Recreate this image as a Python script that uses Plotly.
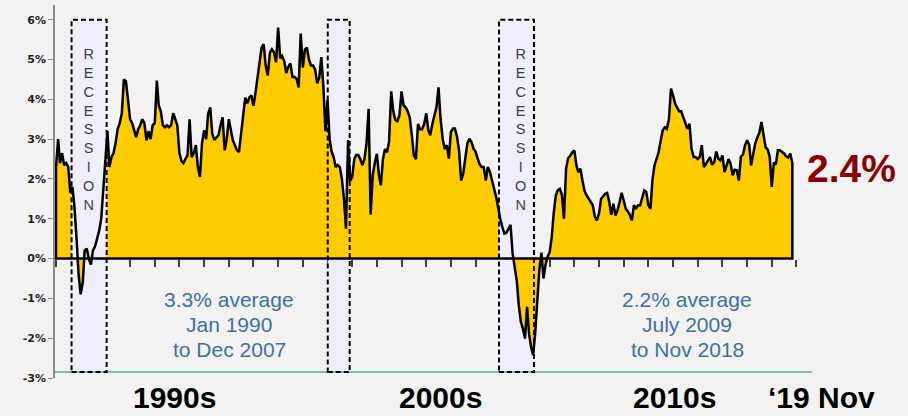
import plotly.graph_objects as go
import pandas as pd

# monthly y/y growth (%), Jan 1990 .. Nov 2019
growth_1990s = [
    2.3, 3.0, 2.4, 2.65, 2.35, 2.4, 2.3, 1.65, 1.8, 1.3, 0.5, -0.4,
    -0.9, -0.6, 0.2, 0.25, 0.0, -0.15, 0.2, 0.3, 0.5, 0.7, 1.0, 1.8,
    2.5, 3.2, 2.3, 2.55, 2.65, 2.9, 3.25, 3.4, 3.65, 4.5, 4.45, 3.95,
    3.5, 3.4, 3.2, 3.05, 3.25, 3.35, 3.5, 3.4, 2.97, 3.2, 3.0, 3.35,
    3.4, 4.47, 3.85, 3.7, 3.35, 3.3, 3.35, 3.3, 3.35, 3.65, 3.5, 3.35,
    2.65, 2.45, 2.4, 2.5, 2.6, 3.5, 2.55, 2.65, 2.85, 2.3, 2.05, 2.89,
    3.22, 3.0, 3.64, 3.8, 3.14, 2.98, 3.05, 3.1, 3.35, 3.55, 2.72, 3.0,
    3.5, 3.26, 2.97, 2.85, 2.72, 2.68, 3.14, 3.68, 4.04, 3.9, 4.05, 4.1,
    3.84, 4.18, 4.55, 5.05, 5.3, 5.39, 4.85, 4.6, 5.18, 5.26, 5.18, 4.93,
    5.8, 5.03, 5.09, 4.96, 4.66, 4.82, 4.9, 4.56, 4.56, 4.52, 4.3, 5.65,
]
growth_2000s = [
    4.8, 5.25, 5.3, 5.0, 4.85, 4.85, 4.75, 4.4, 4.55, 5.06, 4.3, 3.2,
    3.98, 3.0, 2.7, 2.55, 2.3, 2.35, 2.3, 2.0, 1.5, 0.75, 2.98, 1.95,
    2.05, 2.5, 2.6, 2.6, 2.5, 2.35, 2.5, 2.9, 3.76, 1.1, 2.1, 2.4,
    2.63, 2.1, 1.84, 2.5, 2.75, 2.67, 2.95, 4.2, 3.7, 3.48, 3.45, 3.6,
    4.2, 3.85, 3.8, 3.7, 3.55, 3.1, 2.59, 2.5, 3.38, 3.25, 3.25, 3.38,
    3.65, 3.22, 3.1, 3.38, 3.63, 3.8, 4.3, 3.5, 3.0, 2.75, 2.85, 2.51,
    3.18, 3.27, 3.27, 3.06, 2.72, 1.96, 2.13, 2.59, 2.89, 3.01, 2.93, 2.76,
    2.68, 2.51, 2.37, 2.3, 2.3, 1.96, 2.3, 2.18, 1.93, 1.76, 1.55, 1.26,
    1.0, 0.79, 0.63, 0.65, 0.75, 0.85, 0.13, -0.27, -0.55, -1.17, -1.59, -1.76,
    -2.01, -1.21, -1.88, -2.22, -2.43, -1.88, -1.21, -0.29, 0.15, -0.5, -0.15, 0.05,
]
growth_2010s = [
    0.16, 0.54, 1.12, 1.58, 1.72, 1.75, 1.6, 1.0, 2.26, 2.52, 2.58, 2.67,
    2.72, 2.34, 2.17, 2.26, 1.96, 1.7, 1.59, 1.5, 1.4, 1.34, 1.05, 0.96,
    1.13, 1.5, 1.56, 1.63, 1.65, 1.42, 1.1, 1.38, 1.08, 1.21, 1.42, 1.65,
    1.46, 1.25, 1.19, 1.1, 0.96, 1.34, 1.25, 1.34, 1.34, 1.55, 1.71, 1.67,
    1.34, 1.25, 1.96, 2.34, 2.48, 2.67, 2.95, 3.22, 3.3, 3.26, 3.5, 4.27,
    4.1, 3.89, 3.8, 3.7, 3.7, 3.55, 3.43, 3.26, 3.39, 2.76, 2.55, 2.55,
    2.5, 2.56, 2.85, 2.3, 2.38, 2.48, 2.55, 2.36, 2.42, 2.69, 2.51, 2.47,
    2.59, 2.17, 2.34, 2.5, 2.38, 2.09, 2.23, 2.22, 1.96, 2.56, 2.61, 2.85,
    2.97, 2.85, 2.34, 2.64, 2.89, 3.04, 3.16, 3.43, 3.14, 2.8, 2.74, 2.56,
    1.8, 2.42, 2.36, 2.72, 2.72, 2.68, 2.64, 2.57, 2.54, 2.64, 2.4,
]

# shaded recession boxes as drawn on the chart
recession_start = ['1990-08-19', '2001-01-04', '2007-12-13']
recession_end = ['1992-01-20', '2001-11-25', '2009-05-14']
recession_over_area = [True, False, True]
recession_label_x = ['1991-05-01', None, '2008-11-01']

decade_labels = ['1990s', '2000s', '2010s', '\u201819 Nov']
average_notes = [
    ['3.3% average', 'Jan 1990', 'to Dec 2007'],
    ['2.2% average', 'July 2009', 'to Nov 2018'],
]
latest_label = '2.4%'

growth = growth_1990s + growth_2000s + growth_2010s
months = pd.date_range('1990-01-01', periods=len(growth), freq='MS')

BG = '#F2F2F2'
GOLD = '#FFCC00'
LAVENDER = '#EEEEFD'
BOX_TOP = 6.0
BOX_BOTTOM = -2.85
Y_MIN, Y_MAX = -3.0, 6.37

fig = go.Figure()

# recession boxes behind the area
for s, e in zip(recession_start, recession_end):
    fig.add_trace(go.Scatter(
        x=[s, e, e, s, s],
        y=[BOX_BOTTOM, BOX_BOTTOM, BOX_TOP, BOX_TOP, BOX_BOTTOM],
        fill='toself', fillcolor=LAVENDER, mode='lines',
        line=dict(width=0), hoverinfo='skip', showlegend=False
    ))

fig.add_trace(go.Scatter(
    x=months, y=growth, fill='tozeroy', fillcolor=GOLD,
    mode='lines', line=dict(width=0), hoverinfo='skip', showlegend=False
))

# boxes that hide the positive part of the area
for s, e, over in zip(recession_start, recession_end, recession_over_area):
    if over:
        fig.add_trace(go.Scatter(
            x=[s, e, e, s, s], y=[0, 0, BOX_TOP, BOX_TOP, 0],
            fill='toself', fillcolor=LAVENDER, mode='lines',
            line=dict(width=0), hoverinfo='skip', showlegend=False
        ))

fig.add_trace(go.Scatter(
    x=list(months) + [months[-1], months[0], months[0]],
    y=growth + [0, 0, growth[0]],
    mode='lines', line=dict(color='black', width=2.5),
    showlegend=False
))

fig.add_shape(type='line', xref='paper', x0=0, x1=1, yref='y',
              y0=BOX_BOTTOM, y1=BOX_BOTTOM,
              line=dict(color='#5BAA90', width=1.5), layer='above')
for s, e in zip(recession_start, recession_end):
    fig.add_shape(type='rect', xref='x', yref='y', x0=s, x1=e,
                  y0=BOX_BOTTOM, y1=BOX_TOP,
                  line=dict(color='black', width=2, dash='5px,3px'),
                  layer='above')

annotations = []
for lx in recession_label_x:
    if lx is None:
        continue
    annotations.append(dict(
        x=lx, y=3.25, xref='x', yref='y', showarrow=False,
        text='<br>'.join('RECESSION'), align='center',
        font=dict(family='Liberation Sans, Arial', size=14.5, color='#404040')
    ))

note_x = [0.2305, 0.8349]
note_y = [0.2112, 0.1441, 0.0770]
for nx, lines in zip(note_x, average_notes):
    for ny, line in zip(note_y, lines):
        annotations.append(dict(
            x=nx, y=ny, xref='paper', yref='paper', showarrow=False,
            text=line, xanchor='center', yanchor='middle',
            font=dict(family='Liberation Sans, Arial', size=21, color='#3F6FA6')
        ))

annotations.append(dict(
    x=1.0525, y=0.5627, xref='paper', yref='paper', showarrow=False,
    text=latest_label, xanchor='center', yanchor='middle',
    font=dict(family='Liberation Sans, Arial', size=39, color='#8B0000',
              weight='bold')
))

label_x = [0.1585, 0.5099, 0.819, 1.0119]
for lx, lab in zip(label_x, decade_labels):
    annotations.append(dict(
        x=lx, y=-0.052, xref='paper', yref='paper', showarrow=False,
        text=lab, xanchor='center', yanchor='middle',
        font=dict(family='Liberation Sans, Arial', size=30, color='black',
                  weight='bold')
    ))

yticks = list(range(-3, 7))
fig.update_layout(
    width=908, height=416,
    margin=dict(l=55, r=96, t=5, b=38, autoexpand=False),
    paper_bgcolor=BG, plot_bgcolor=BG,
    showlegend=False,
    annotations=annotations,
    xaxis=dict(
        type='date', range=['1989-12-17', '2020-08-18'],
        anchor='free', position=(0 - Y_MIN) / (Y_MAX - Y_MIN),
        showline=False, showgrid=False, zeroline=False, automargin=False,
        ticks='outside', ticklen=7, tickwidth=1.5, tickcolor='#404040',
        tick0='1990-01-01', dtick='M12', showticklabels=False,
        layer='below traces'
    ),
    yaxis=dict(
        range=[Y_MIN, Y_MAX], showgrid=False, zeroline=False, automargin=False,
        showline=True, linecolor='#8C8C8C', linewidth=1.5,
        ticks='outside', ticklen=5, tickcolor='#8C8C8C',
        tickvals=yticks, ticktext=[f'{v}%' for v in yticks],
        tickfont=dict(family='DejaVu Sans', size=11, color='#222222',
                      weight='bold')
    ),
)

fig.write_html("out.html", config={'displayModeBar': False},
               post_script="document.body.style.margin='0';")
